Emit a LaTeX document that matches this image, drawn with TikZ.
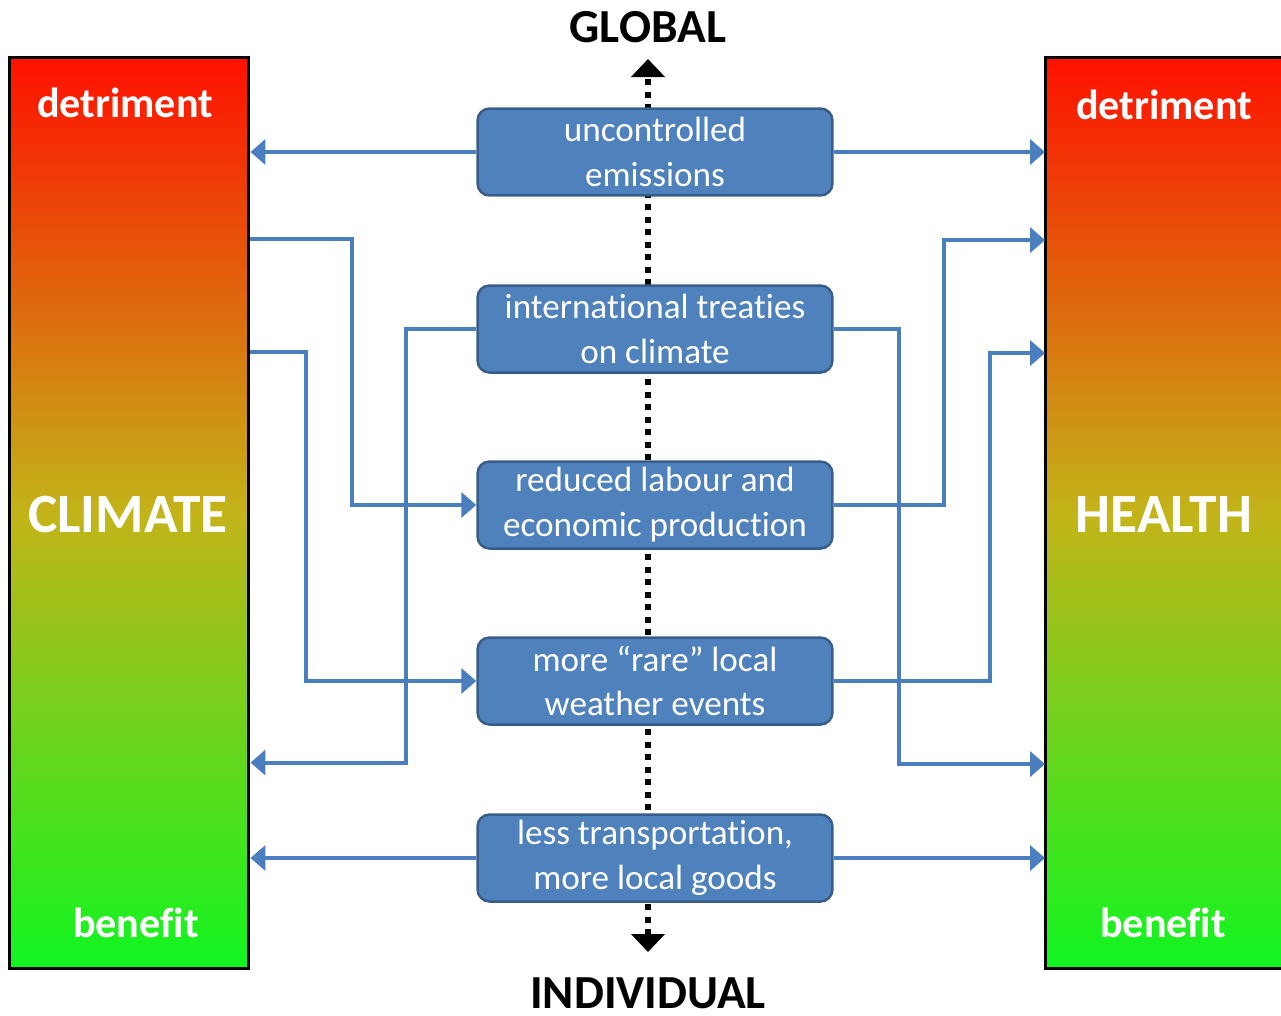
\documentclass[tikz,border=0pt]{standalone}
\usepackage{fontspec}
\setmainfont{Carlito}[Ligatures=NoCommon]
\usetikzlibrary{arrows.meta,positioning,calc}
\definecolor{boxblue}{RGB}{79,129,189}
\definecolor{boxedge}{RGB}{56,93,138}
\definecolor{linkblue}{RGB}{74,126,190}
\definecolor{hot}{RGB}{255,16,0}
\definecolor{warm}{RGB}{195,180,25}
\definecolor{cool}{RGB}{16,245,32}

\begin{document}
\begin{tikzpicture}[x=0.02cm, y=-0.02cm,
    bar/.style={rectangle, draw=black, line width=0.06cm, top color=hot, bottom color=cool, middle color=warm, minimum width=4.8cm, minimum height=18.24cm},
    barlabel/.style={text=white, font=\fontsize{24}{28}\selectfont\bfseries, inner sep=0pt},
    bigname/.style={text=white, font=\fontsize{31.5}{36}\selectfont\bfseries, inner sep=0pt},
    effect/.style={rectangle, rounded corners=0.24cm, draw=boxedge, line width=0.05cm, fill=boxblue, text=white, align=center, minimum width=7.1cm, minimum height=1.74cm, font=\fontsize{20}{25.5}\selectfont},
    poletext/.style={font=\fontsize{27}{30}\selectfont\bfseries, inner sep=0pt},
    link/.style={-{Triangle[length=0.3cm, width=0.5cm]}, linkblue, line width=0.08cm},
    axis/.style={{Triangle[length=0.36cm, width=0.66cm]}-{Triangle[length=0.36cm, width=0.66cm]}, black, line width=0.12cm, dash pattern=on 0.12cm off 0.13cm}
]
    \useasboundingbox (0,0) rectangle (1281,1015);

    % Colour bars (the right one runs off the page)
    \node[bar] (climate) at (129,513) {};
    \node[bar, draw=none, outer sep=0pt, minimum width=4.72cm] (health) at (1163,513) {};
    \draw[black, line width=0.06cm] (health.north east) -- (health.north west) -- (health.south west) -- (health.south east);

    \node[barlabel] (cdet) at (125,103) {detriment};
    \node[bigname] (cname) at (128,515) {CLIMATE};
    \node[barlabel] (cben) at (136,923) {benefit};
    \node[barlabel] (hdet) at (1164,105) {detriment};
    \node[bigname] (hname) at (1164,515) {HEALTH};
    \node[barlabel] (hben) at (1163,923) {benefit};

    % Global / individual axis
    \node[poletext] (global) at (648,27) {GLOBAL};
    \node[poletext] (individual) at (648,993) {INDIVIDUAL};
    \coordinate (up) at (648,59);
    \coordinate (down) at (648,952);
    \draw[axis] (down) -- (up);

    % Effects
    \node[effect] (emis) at (655,152) {uncontrolled\\emissions};
    \node[effect] (treat) at (655,329) {international treaties\\on climate};
    \node[effect] (labour) at (655,505) {reduced labour and\\economic production};
    \node[effect] (weather) at (655,681) {more “rare” local\\weather events};
    \node[effect] (transp) at (655,858) {less transportation,\\more local goods};

    % Ports on the bars
    \coordinate (cA) at ($(climate.north east)+(0,183)$);
    \coordinate (cB) at ($(climate.north east)+(0,296)$);
    \coordinate (cC) at ($(climate.north east)+(0,707)$);
    \coordinate (hA) at ($(health.north west)+(0,183)$);
    \coordinate (hB) at ($(health.north west)+(0,296)$);
    \coordinate (hC) at ($(health.north west)+(0,707)$);

    % Links
    \draw[link] (emis.west) -- (emis.west -| climate.east);
    \draw[link] (emis.east) -- (emis.east -| health.west);
    \draw[link] (cA) -- ++(102,0) |- (labour.west);
    \draw[link] (cB) -- ++(56,0) |- (weather.west);
    \draw[link] (treat.west) -- ++(-70,0) |- (cC);
    \draw[link] (treat.east) -- ++(65,0) |- (hC);
    \draw[link] (labour.east) -- ++(110,0) |- (hA);
    \draw[link] (weather.east) -- ++(156,0) |- (hB);
    \draw[link] (transp.west) -- (transp.west -| climate.east);
    \draw[link] (transp.east) -- (transp.east -| health.west);
\end{tikzpicture}
\end{document}
